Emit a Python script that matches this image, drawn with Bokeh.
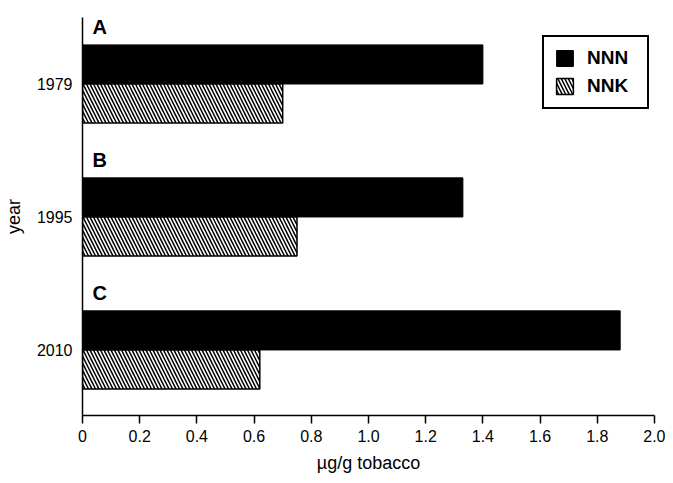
from bokeh.plotting import figure
from bokeh.models import FixedTicker, Label, Legend, LegendItem
from bokeh.embed import file_html
from bokeh.resources import INLINE

years = ["1979", "1995", "2010"]
panels = ["A", "B", "C"]
nnn = [1.40, 1.33, 1.88]
nnk = [0.70, 0.75, 0.62]
x_ticks = [0, 0.2, 0.4, 0.6, 0.8, 1.0, 1.2, 1.4, 1.6, 1.8, 2.0]
x_tick_labels = ["0", "0.2", "0.4", "0.6", "0.8", "1.0", "1.2", "1.4", "1.6", "1.8", "2.0"]

FONT = "Liberation Sans"
centers = [2, 1, 0]
bh = 0.294

p = figure(width=665, height=475, output_backend="svg", toolbar_location=None,
           x_range=(0, 2.0), y_range=(-0.493, 2.5),
           min_border_left=79, min_border_right=11, min_border_top=17, min_border_bottom=51)
p.outline_line_color = None
p.xgrid.visible = False
p.ygrid.visible = False

r1 = p.hbar(y=[c + bh / 2 for c in centers], right=nnn, left=0, height=bh,
            fill_color="black", line_color="black", line_width=1)
r2 = p.hbar(y=[c - bh / 2 for c in centers], right=nnk, left=0, height=bh,
            fill_color="white", line_color="black", line_width=1.5,
            hatch_pattern="\\", hatch_color="black", hatch_scale=7, hatch_weight=1.5)

for name, c in zip(panels, centers):
    p.add_layout(Label(x=0.035, y=c + 0.426, text=name, text_font=FONT,
                       text_font_style="bold", text_font_size="20px",
                       text_baseline="middle", text_align="left", text_color="black"))

for ax in (p.xaxis[0], p.yaxis[0]):
    ax.minor_tick_line_color = None
    ax.axis_line_width = 1.5
    ax.axis_line_color = "black"
    ax.major_tick_line_color = "black"
    ax.major_label_text_font = FONT
    ax.major_label_text_font_size = "16px"
    ax.major_label_text_color = "black"
    ax.axis_label_text_font = FONT
    ax.axis_label_text_font_size = "18px"
    ax.axis_label_text_font_style = "normal"
    ax.axis_label_text_color = "black"

xa = p.xaxis[0]
xa.ticker = FixedTicker(ticks=x_ticks)
xa.major_label_overrides = {t: l for t, l in zip(x_ticks, x_tick_labels)}
xa.major_tick_out = 8
xa.major_tick_in = 0
xa.major_tick_line_width = 1.5
xa.major_label_standoff = 6
xa.axis_label = "µg/g tobacco"
xa.axis_label_standoff = 8

ya = p.yaxis[0]
ya.ticker = FixedTicker(ticks=centers)
ya.major_label_overrides = {c: y for c, y in zip(centers, years)}
ya.major_tick_line_color = None
ya.major_tick_out = 0
ya.major_label_standoff = 10
ya.axis_label = "year"
ya.axis_label_standoff = 10

legend = Legend(items=[LegendItem(label="NNN", renderers=[r1]),
                       LegendItem(label="NNK", renderers=[r2])],
                location=(460, 306))
legend.padding = 10
legend.spacing = 6
legend.margin = 0
legend.glyph_width = 21
legend.glyph_height = 20
legend.label_standoff = 12
legend.label_width = 50
legend.label_text_font = FONT
legend.label_text_font_style = "bold"
legend.label_text_font_size = "19px"
legend.label_text_color = "black"
legend.border_line_color = "black"
legend.border_line_width = 2
legend.border_line_alpha = 1
legend.background_fill_alpha = 1
p.add_layout(legend, "center")

open("out.html", "w").write(file_html(p, INLINE))
